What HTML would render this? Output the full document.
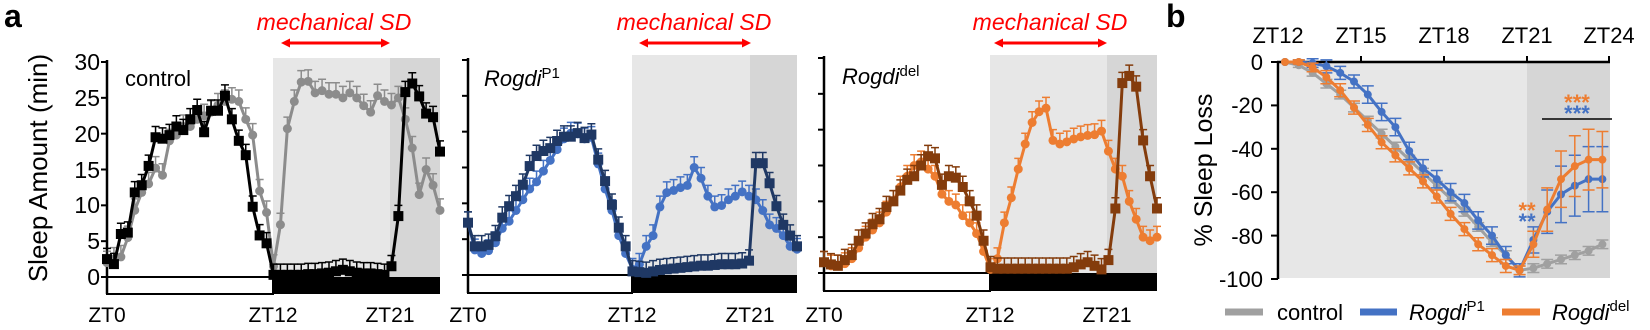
<!DOCTYPE html>
<html><head><meta charset="utf-8"><style>
html,body{margin:0;padding:0;background:#fff;}
svg{display:block;font-family:"Liberation Sans",Arial,sans-serif;}
</style></head><body>
<svg id="s" width="1650" height="330" viewBox="0 0 1650 330" xmlns="http://www.w3.org/2000/svg">
<defs>
<marker id="ah" markerWidth="9" markerHeight="9" refX="4" refY="4.5" orient="auto-start-reverse" markerUnits="userSpaceOnUse"><path d="M0,0 L9,4.5 L0,9 z" fill="#f00"/></marker>
</defs>
<g id="bg"></g>
<text x="4" y="27" font-size="32" font-weight="bold">a</text>
<text x="1166" y="27" font-size="32" font-weight="bold">b</text>
<g fill="#f00" font-size="23" font-style="italic" text-anchor="middle">
<text x="334" y="30">mechanical SD</text>
<text x="694" y="30">mechanical SD</text>
<text x="1050" y="30">mechanical SD</text>
</g>
<g stroke="#f00" stroke-width="3">
<line x1="286" y1="43" x2="385" y2="43" marker-start="url(#ah)" marker-end="url(#ah)"/>
<line x1="644" y1="43" x2="746" y2="43" marker-start="url(#ah)" marker-end="url(#ah)"/>
<line x1="999" y1="43" x2="1102" y2="43" marker-start="url(#ah)" marker-end="url(#ah)"/>
</g>
<g font-size="23" text-anchor="end">
<text x="100" y="70">30</text><text x="100" y="106">25</text><text x="100" y="142">20</text>
<text x="100" y="178">15</text><text x="100" y="213">10</text><text x="100" y="249">5</text><text x="100" y="285">0</text>
</g>
<text transform="translate(47,168) rotate(-90)" font-size="26" text-anchor="middle">Sleep Amount (min)</text>
<g font-size="21" text-anchor="middle">
<text x="107" y="322">ZT0</text><text x="273" y="322">ZT12</text><text x="390" y="322">ZT21</text>
<text x="468" y="322">ZT0</text><text x="632" y="322">ZT12</text><text x="750" y="322">ZT21</text>
<text x="824" y="322">ZT0</text><text x="990" y="322">ZT12</text><text x="1107" y="322">ZT21</text>
</g>
<text x="125" y="86" font-size="22">control</text>
<text x="484" y="86" font-size="22"><tspan font-style="italic">Rogdi</tspan><tspan font-size="15" dy="-8">P1</tspan></text>
<text x="842" y="84" font-size="22"><tspan font-style="italic">Rogdi</tspan><tspan font-size="15" dy="-8">del</tspan></text>
<g font-size="22" text-anchor="middle">
<text x="1278" y="43">ZT12</text><text x="1361" y="43">ZT15</text><text x="1444" y="43">ZT18</text>
<text x="1527" y="43">ZT21</text><text x="1609" y="43">ZT24</text>
</g>
<g font-size="22" text-anchor="end">
<text x="1263" y="70">0</text><text x="1263" y="113">-20</text><text x="1263" y="157">-40</text>
<text x="1263" y="200">-60</text><text x="1263" y="244">-80</text><text x="1263" y="287">-100</text>
</g>
<text transform="translate(1212,170) rotate(-90)" font-size="25" text-anchor="middle">% Sleep Loss</text>
<g id="fg"></g>
<g stroke-width="7">
<line x1="1225" y1="312" x2="1263" y2="312" stroke="#a0a0a0"/>
<line x1="1360" y1="312" x2="1397" y2="312" stroke="#4472c4"/>
<line x1="1502" y1="312" x2="1540" y2="312" stroke="#ed7d31"/>
</g>
<g font-size="22">
<text x="1277" y="320">control</text>
<text x="1409" y="320"><tspan font-style="italic">Rogdi</tspan><tspan font-size="15" dy="-9">P1</tspan></text>
<text x="1552" y="320"><tspan font-style="italic">Rogdi</tspan><tspan font-size="15" dy="-9">del</tspan></text>
</g>
<line x1="1542" y1="119" x2="1612" y2="119" stroke="#000" stroke-width="1.5"/>
<g font-size="22" font-weight="bold" text-anchor="middle">
<text x="1577" y="110" fill="#ed7d31">***</text>
<text x="1577" y="121" fill="#4472c4">***</text>
<text x="1527" y="218" fill="#ed7d31">**</text>
<text x="1527" y="229" fill="#4472c4">**</text>
</g>
</svg>
<script>
var NS="http://www.w3.org/2000/svg";
var bg=document.getElementById("bg"),fg=document.getElementById("fg");
function el(p,t,a){var e=document.createElementNS(NS,t);for(var k in a)e.setAttribute(k,a[k]);p.appendChild(e);return e;}
var panels=[
{x0:107,x1:440,y30:62,y0:277,zt12:273,zt21:390,top:58,bb:294,
 s:[{c:"#8c8c8c",m:"c",e:1.6,d:[2,2.5,2.8,5.5,9.3,11.8,13,15.2,14.2,19,19.8,21,21,22,22.5,23,24,24.5,24.8,24.5,22,19.8,12,9,1.5,7.3,20.7,24.5,27.2,27.3,25.7,26,25.5,25.5,25,25.7,25,23.9,23,25.3,24.5,24,25,22,18,11.5,15,12.8,9.3]},
    {c:"#000",m:"s",e:1.5,d:[2.5,1.8,6,6.2,11.8,12.8,15.5,19.5,19.3,19.8,21,20.5,22,23.3,20.2,23.2,23.2,25.3,22,19,17,9.8,5.8,4.7,0.3,0.3,0.3,0.3,0.3,0.4,0.4,0.5,0.6,0.8,1,0.8,0.6,0.5,0.5,0.4,0.3,1.5,8.5,25.8,27,25.2,22.8,22.3,17.5]}]},
{x0:468,x1:797,y30:60,y0:275,zt12:632,zt21:750,top:55,bb:293,
 s:[{c:"#4472c4",m:"c",e:1.5,d:[7.3,3.5,3,3.4,4.5,6.5,7.5,9,10.5,12,13,14.5,16,17.5,19,19.8,19.7,19,19.2,15.5,12,9,5.5,3,0.8,1.5,4,5.5,9.5,11.5,11.8,12.2,12.5,15,13.5,11,9.5,9.7,10.5,11,11.6,11,10.5,9,7,6.5,5.5,4,3.6]},
    {c:"#1f3864",m:"s",e:1.5,d:[7.3,4,4,4.2,5.4,8,9.6,11,12.6,15.2,16.6,17.3,17.7,18.7,19.3,19.3,19.8,19.1,19.6,16.1,13.1,9.8,6.6,4,0.5,0.4,0.3,0.5,0.7,0.8,0.9,1,1.1,1.2,1.3,1.3,1.4,1.5,1.5,1.5,1.6,2,15.6,15.6,12.8,9.6,7,5.5,4]}]},
{x0:824,x1:1157,y30:58,y0:273,zt12:990,zt21:1107,top:55,bb:291,
 s:[{c:"#ed7d31",m:"c",e:1.5,d:[1.5,1,1,1.3,2,3.5,5,6,7,8.5,10,12,13.5,15,15.5,14.5,13.5,11,10,9.5,8,7,5.5,3,0.5,2,7,10.5,14.5,18,21,22.5,23,18.5,18,18.3,18.7,19,19.2,19.3,19.8,17,14.5,13.5,10,7.5,5,4.5,5]},
    {c:"#843c0c",m:"s",e:1.5,d:[1.5,1.2,1,1.8,2.5,4.5,5.5,6.8,7.5,9.2,10,11.5,13,13.5,15,16.3,16,12.3,13.5,13.3,12,10,8,4.5,0.8,0.6,0.6,0.6,0.6,0.6,0.6,0.6,0.6,0.6,0.6,0.6,0.8,1.2,1.5,1,0.5,1.8,9,26.5,27.5,26,18.5,13.5,9]}]}
];
panels.forEach(function(P){
 var k=(P.y0-P.y30)/30;
 el(bg,"rect",{x:P.zt12,y:P.top,width:P.zt21-P.zt12,height:P.y0-P.top,fill:"#e7e7e7"});
 el(bg,"rect",{x:P.zt21,y:P.top,width:P.x1-P.zt21,height:P.y0-P.top,fill:"#d6d6d6"});
 el(bg,"rect",{x:P.x0,y:P.y0,width:P.zt12-P.x0,height:P.bb-P.y0,fill:"#fff",stroke:"#000","stroke-width":2});
 el(bg,"rect",{x:P.zt12,y:P.y0,width:P.x1-P.zt12,height:P.bb-P.y0,fill:"#000"});
 el(bg,"line",{x1:P.x0,y1:P.y30-2,x2:P.x0,y2:P.bb,stroke:"#000","stroke-width":2.5});
 for(var t=0;t<=30;t+=5){var yy=P.y0-t*k;el(bg,"line",{x1:P.x0-6,y1:yy,x2:P.x0,y2:yy,stroke:"#000","stroke-width":2});}
 P.s.forEach(function(S){
  var n=S.d.length,dx=(P.x1-P.x0)/(n-1),pts=[];
  S.d.forEach(function(v,i){pts.push([P.x0+i*dx,P.y0-v*k]);});
  var g=el(fg,"g",{});
  pts.forEach(function(p){var ye=p[1]-S.e*k;el(g,"path",{d:"M"+p[0]+","+p[1]+"V"+ye+"M"+(p[0]-4)+","+ye+"H"+(p[0]+4),stroke:S.c,"stroke-width":1.5,fill:"none"});});
  el(g,"polyline",{points:pts.map(function(p){return p.join(",")}).join(" "),fill:"none",stroke:S.c,"stroke-width":3});
  pts.forEach(function(p){if(S.m=="c")el(g,"circle",{cx:p[0],cy:p[1],r:4.5,fill:S.c});else el(g,"rect",{x:p[0]-5,y:p[1]-5,width:10,height:10,fill:S.c});});
 });
});
var by0=62,bk=2.17;
el(bg,"rect",{x:1280,y:62,width:247,height:216,fill:"#e7e7e7"});
el(bg,"rect",{x:1527,y:62,width:83,height:216,fill:"#d6d6d6"});
el(bg,"line",{x1:1278,y1:61,x2:1278,y2:279,stroke:"#000","stroke-width":2.5});
el(bg,"line",{x1:1277,y1:62,x2:1610,y2:62,stroke:"#000","stroke-width":2.5});
for(var i=0;i<=5;i++){var yy=62+i*20*bk;el(bg,"line",{x1:1271,y1:yy,x2:1278,y2:yy,stroke:"#000","stroke-width":2});}
[1361,1444,1527,1609].forEach(function(x){el(bg,"line",{x1:x,y1:62,x2:x,y2:56,stroke:"#000","stroke-width":2});});
var bs=[
 {c:"#a0a0a0",e:[0,1,1.5,2,2,2,2,2,2,2,2,2,2,2,2,2,2,2,2,2,2,2,2,2],d:[0,-1.5,-5,-10,-15,-21,-27,-33,-39,-45,-51,-57,-63,-69,-76,-83,-89,-96,-95,-93,-91,-89,-87,-84]},
 {c:"#4472c4",e:[0,1,2,3,3,3,4,4,4,4,4,4,4,4,4,4,4,3,6,10,13,14,15,15],d:[0,0,-0.5,-2,-5,-9,-15,-23,-30,-41,-49,-54,-60,-65,-73,-80,-89,-96,-82,-69,-61,-57,-54,-54]},
 {c:"#ed7d31",e:[0,1,2,3,3,3,3,3,3,3,3,3,3,3,3,3,3,2,6,10,13,14,14,13],d:[0,0,-2.5,-7,-13,-21,-29,-37,-43,-49,-55,-62,-70,-77,-84,-89,-94,-96,-84,-68,-54,-48,-45,-45]}
];
bs.forEach(function(S){
 var pts=S.d.map(function(v,i){return [1285+i*13.8,by0-v*bk];});
 var g=el(fg,"g",{});
 pts.forEach(function(p,i){var e=S.e[i]*bk;if(e>0)el(g,"path",{d:"M"+p[0]+","+(p[1]-e)+"V"+(p[1]+e)+"M"+(p[0]-6)+","+(p[1]-e)+"H"+(p[0]+6)+"M"+(p[0]-6)+","+(p[1]+e)+"H"+(p[0]+6),stroke:S.c,"stroke-width":1.5,fill:"none"});});
 el(g,"polyline",{points:pts.map(function(p){return p.join(",")}).join(" "),fill:"none",stroke:S.c,"stroke-width":3});
 pts.forEach(function(p){el(g,"circle",{cx:p[0],cy:p[1],r:4,fill:S.c});});
});
</script>
</body></html>
